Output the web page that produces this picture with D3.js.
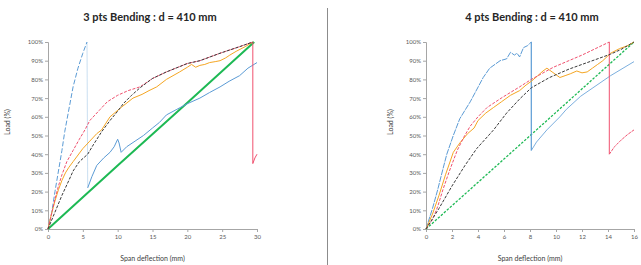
<!DOCTYPE html>
<html><head><meta charset="utf-8">
<script src="https://cdn.jsdelivr.net/npm/d3@7"></script>
<style>body{margin:0;background:#fff}svg{display:block}text{font-family:Lato,"Open Sans",sans-serif}</style>
</head><body><svg id="c" width="641" height="265"></svg>
<script>
// ---------- Data (x: span deflection in mm, y: load in %) ----------
const yTicks = [0,10,20,30,40,50,60,70,80,90,100];
const xTicks3 = [0,5,10,15,20,25,30];
const xTicks4 = [0,2,4,6,8,10,12,14,16];
const titles = ["3 pts Bending : d = 410 mm", "4 pts Bending : d = 410 mm"];
const xLabel = "Span deflection (mm)";
const yLabel = "Load (%)";

// 3-point bending
const blueA3 = [[0,0],[0.5,8],[1,20],[1.5,31],[2,42],[2.4,52],[2.9,62],[3.6,76],[4.3,86],[5,94],[5.6,100]];
const blueB3 = [[5.7,22],[6.3,28],[7,34],[8,38],[8.9,41],[9.5,44],[10,48],[10.2,46],[10.5,41],[11.3,44],[12.5,47],[13.7,50],[15,54],[16,57],[17,61],[18.5,64],[20,67],[21.8,70],[23.2,73],[24.7,76],[26,79],[27.5,82],[28.7,86],[30,89]];
const red3 = [[0,0],[0.5,8],[1,16],[1.5,23],[2,29],[2.7,36],[3.6,42],[4.5,48],[5.3,53],[6,58],[7.5,64],[8.5,68],[10,71.5],[11.5,74],[13.2,76],[15,80.5],[17,84],[20,88.5],[21.8,90],[24.7,94],[27.5,97.5],[29.4,100]];
const redDrop3 = [[29.4,100],[29.4,35],[29.7,38],[30,40]];
const black3 = [[0,0],[1,9],[2,18],[3,26],[3.6,31],[4.5,36],[5.7,40],[6.5,45],[7.7,52],[8.9,58],[10,63],[10.8,67],[12,71.5],[13.2,75.5],[15,80.5],[17,84],[20,88.5],[21.8,90],[24.7,94],[27.5,97.5],[29.4,100]];
const orange3 = [[0,0],[0.5,8],[1,15],[1.5,21],[2,26],[2.5,30],[3,33],[3.6,36],[4.2,39],[5,43],[6,47],[7,51],[7.7,53],[8.9,60],[10.5,65],[12.2,70],[13.5,72],[14.5,74],[15.6,76],[17,80],[18.9,84],[20,86.5],[20.6,88],[21.2,86.5],[21.8,87.5],[22.5,88],[23.2,89],[24,89.5],[24.7,90],[25.5,91.5],[26.1,93],[27,95],[28.3,97.5],[29.4,100]];
const green3 = [[0,0],[10,34],[20,67.5],[29.6,100]];

// 4-point bending
const blueA4 = [[0,0],[0.5,11],[0.9,21],[1.3,32],[1.6,40],[2.1,50],[2.6,59],[3.4,68],[4.4,81],[4.9,86],[5.7,90],[6.2,91],[6.5,94.5],[6.8,93],[7,94],[7.2,92],[7.5,97],[7.8,98],[8.1,100]];
const blueDrop4 = [[8.1,100],[8.1,42]];
const blueB4 = [[8.1,42],[8.5,46.5],[9.3,53],[10.3,60],[10.8,64],[11.9,71],[14.2,82],[16,89.5]];
const red4 = [[0,0],[0.5,5],[0.9,12],[1.3,21],[1.8,31],[2.4,42],[2.9,49],[3.4,55],[4,60],[4.7,65],[5.9,70.5],[7.2,76],[8.1,80],[9.8,86.5],[12,93],[14.1,100]];
const redDrop4 = [[14.1,100],[14.1,40]];
const redB4 = [[14.1,40],[14.5,44],[15,47.5],[15.5,50.5],[16,53]];
const orange4 = [[0,0],[0.5,8],[1,18],[1.5,29],[2.1,41],[2.6,46],[3.2,51],[3.7,54],[4,58],[4.6,62],[5.2,65],[5.8,68],[6.5,71.5],[7.2,74],[7.7,77],[8.1,79],[8.6,82],[9,84.5],[9.3,86],[9.7,84],[10.3,81],[10.7,82],[11.1,83],[11.6,84.5],[12,83.5],[12.4,84],[12.8,86],[13.2,88],[13.6,90],[14.2,94],[14.9,96.5],[15.5,98],[16,100]];
const black4 = [[0,0],[1,11],[2,23],[3,34],[3.9,43],[5.2,53],[6.2,62],[7.2,69.5],[8.1,75.5],[9.5,81],[11,85.5],[12.4,89],[14.2,93.5],[15,96],[16,100]];
const green4 = [[0,0],[8.5,53],[16,100]];

// ---------- Colours ----------
const C = {blue:"#5b9bd5", lightBlue:"#bdd7ee", red:"#f0506e", orange:"#f5a623", black:"#3a3a3a", green:"#1db954"};

const svg = d3.select("#c");
const y = d3.scaleLinear().domain([0,100]).range([229,42]);

function panel(cfg){
  const x = d3.scaleLinear().domain(cfg.xDomain).range(cfg.xRange);
  const g = svg.append("g");
  // axes
  const ya = g.append("g").attr("transform",`translate(${cfg.xRange[0]},0)`)
    .call(d3.axisLeft(y).tickValues(yTicks).tickFormat(d=>d+"%").tickSize(3).tickPadding(2));
  const xa = g.append("g").attr("transform",`translate(0,229)`)
    .call(d3.axisBottom(x).tickValues(cfg.xTicks).tickFormat(d3.format("d")).tickSize(3).tickPadding(3));
  [ya,xa].forEach(a=>{
    a.select(".domain").attr("stroke","#a6a6a6");
    a.selectAll(".tick line").attr("stroke","#a6a6a6");
    a.selectAll(".tick text").attr("fill","#595959").style("font-size","6px");
  });
  const line = d3.line().x(d=>x(d[0])).y(d=>y(d[1]));
  cfg.series.forEach(s=>{
    g.append("path").attr("d",line(s.data)).attr("fill","none")
      .attr("stroke",s.color).attr("stroke-width",s.w||1)
      .attr("stroke-dasharray",s.dash||null).attr("stroke-linejoin","round");
  });
  // titles
  g.append("text").attr("x",cfg.titleX).attr("y",21).attr("text-anchor","middle")
    .style("font-size","11px").style("font-weight","bold").attr("fill","#262626").text(cfg.title);
  g.append("text").attr("x",(cfg.xRange[0]+cfg.xRange[1])/2).attr("y",261).attr("text-anchor","middle")
    .style("font-size","7px").attr("fill","#404040").text(xLabel);
  g.append("text").attr("transform",`translate(${cfg.yTitleX},122) rotate(-90)`).attr("text-anchor","middle")
    .style("font-size","7px").attr("fill","#404040").text(yLabel);
}

panel({
  xDomain:[0,30], xRange:[48,257], xTicks:xTicks3, title:titles[0], titleX:150, yTitleX:10,
  series:[
    {data:green3, color:C.green, w:2},
    {data:[blueA3[blueA3.length-1], blueB3[0]], color:C.lightBlue, w:0.8},
    {data:blueA3, color:C.blue, dash:"5,2"},
    {data:blueB3, color:C.blue},
    {data:orange3, color:C.orange},
    {data:red3, color:C.red, dash:"3,1.5"},
    {data:redDrop3, color:C.red},
    {data:black3, color:C.black, dash:"3,1.5"}
  ]
});
panel({
  xDomain:[0,16], xRange:[426,634], xTicks:xTicks4, title:titles[1], titleX:532, yTitleX:393,
  series:[
    {data:green4, color:C.green, w:1.3, dash:"2.5,1.5"},
    {data:blueA4, color:C.blue, dash:"6,1"},
    {data:blueDrop4, color:C.blue, w:1.2},
    {data:blueB4, color:C.blue, w:0.8},
    {data:orange4, color:C.orange},
    {data:red4, color:C.red, dash:"3,1.5"},
    {data:redDrop4, color:C.red},
    {data:redB4, color:C.red, dash:"3,1"},
    {data:black4, color:C.black, dash:"3,1.5"}
  ]
});
// separator between the two charts
svg.append("line").attr("x1",327.5).attr("x2",327.5).attr("y1",8).attr("y2",265)
  .attr("stroke","#8c8c8c").attr("stroke-width",1);
</script></body></html>
